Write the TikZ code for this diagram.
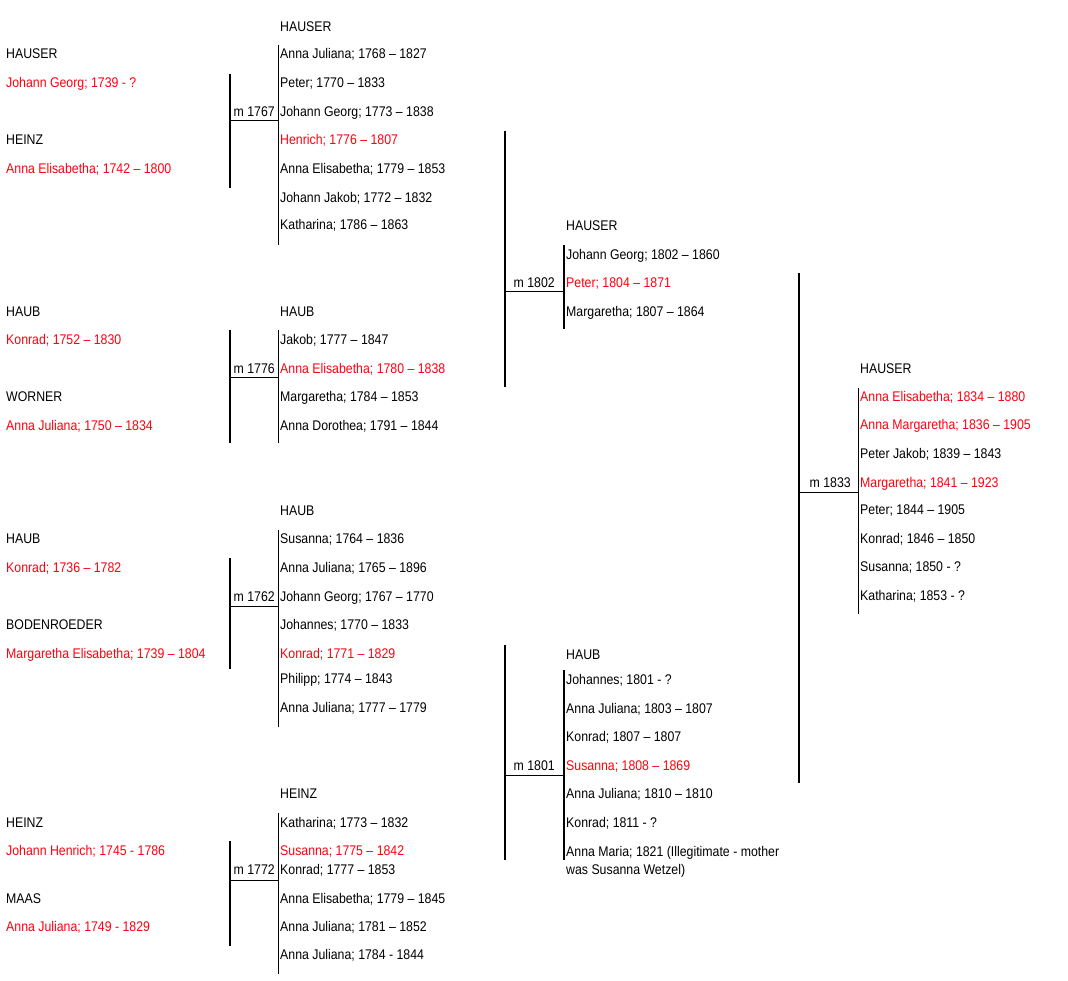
\documentclass[tikz,border=0pt]{standalone}
\usepackage{fontspec}
\setmainfont[FakeStretch=0.88]{Liberation Sans}
\definecolor{namered}{RGB}{255,0,16}
\tikzset{
  txt/.style={anchor=base west, inner sep=0pt, yshift=-5.5pt, font=\fontsize{14}{17}\selectfont, text=black},
  rtxt/.style={txt, text=namered},
  mlab/.style={anchor=base east, inner sep=0pt, yshift=-5.5pt, font=\fontsize{14}{17}\selectfont},
  thickbar/.style={line width=2pt},
  thinbar/.style={line width=1pt},
  link/.style={line width=1pt}
}
\begin{document}
\begin{tikzpicture}[x=1pt,y=-1pt]
\useasboundingbox[fill=white] (0,0) rectangle (1068,981);

% ---------- column 1: great-grandparents ----------
\node[txt]  (s1) at (6,53.3)  {HAUSER};
\node[rtxt] (p1) at (6,82.3)  {Johann Georg; 1739 - ?};
\node[txt]  (s2) at (6,139.3) {HEINZ};
\node[rtxt] (p2) at (6,167.7) {Anna Elisabetha; 1742 – 1800};

\node[txt]  (s3) at (6,311)   {HAUB};
\node[rtxt] (p3) at (6,339)   {Konrad; 1752 – 1830};
\node[txt]  (s4) at (6,395.7) {WORNER};
\node[rtxt] (p4) at (6,425)   {Anna Juliana; 1750 – 1834};

\node[txt]  (s5) at (6,538.3) {HAUB};
\node[rtxt] (p5) at (6,566.7) {Konrad; 1736 – 1782};
\node[txt]  (s6) at (6,624)   {BODENROEDER};
\node[rtxt] (p6) at (6,653.3) {Margaretha Elisabetha; 1739 – 1804};

\node[txt]  (s7) at (6,822.3) {HEINZ};
\node[rtxt] (p7) at (6,850)   {Johann Henrich; 1745 - 1786};
\node[txt]  (s8) at (6,897.7) {MAAS};
\node[rtxt] (p8) at (6,926)   {Anna Juliana; 1749 - 1829};

% ---------- marriage links, column 1 ----------
\coordinate (g1t) at (230,74);  \coordinate (g1b) at (230,188);
\coordinate (g1l) at (230,121); \coordinate (g1r) at (278,121);
\coordinate (c1t) at (278,45);  \coordinate (c1b) at (278,245);
\draw[thickbar] (g1t) -- (g1b);
\draw[link] (g1l) -- (g1r);
\draw[thinbar] (c1t) -- (c1b);
\node[mlab] (m1) at (275,110.7) {m 1767};

\coordinate (g2t) at (230,330); \coordinate (g2b) at (230,443);
\coordinate (g2l) at (230,378); \coordinate (g2r) at (278,378);
\coordinate (c2t) at (278,330); \coordinate (c2b) at (278,443);
\draw[thickbar] (g2t) -- (g2b);
\draw[link] (g2l) -- (g2r);
\draw[thinbar] (c2t) -- (c2b);
\node[mlab] (m2) at (275,367.7) {m 1776};

\coordinate (g3t) at (230,558); \coordinate (g3b) at (230,669);
\coordinate (g3l) at (230,606); \coordinate (g3r) at (278,606);
\coordinate (c3t) at (278,530); \coordinate (c3b) at (278,727);
\draw[thickbar] (g3t) -- (g3b);
\draw[link] (g3l) -- (g3r);
\draw[thinbar] (c3t) -- (c3b);
\node[mlab] (m3) at (275,595.7) {m 1762};

\coordinate (g4t) at (230,841); \coordinate (g4b) at (230,946);
\coordinate (g4l) at (230,880); \coordinate (g4r) at (278,880);
\coordinate (c4t) at (278,813); \coordinate (c4b) at (278,974);
\draw[thickbar] (g4t) -- (g4b);
\draw[link] (g4l) -- (g4r);
\draw[thinbar] (c4t) -- (c4b);
\node[mlab] (m4) at (275,869.3) {m 1772};

% ---------- column 2: children ----------
\node[txt]  (f1)  at (280,25.7)  {HAUSER};
\node[txt]  (k11) at (280,53.3)  {Anna Juliana; 1768 – 1827};
\node[txt]  (k12) at (280,82.3)  {Peter; 1770 – 1833};
\node[txt]  (k13) at (280,110.7) {Johann Georg; 1773 – 1838};
\node[rtxt] (k14) at (280,139.3) {Henrich; 1776 – 1807};
\node[txt]  (k15) at (280,167.7) {Anna Elisabetha; 1779 – 1853};
\node[txt]  (k16) at (280,196.7) {Johann Jakob; 1772 – 1832};
\node[txt]  (k17) at (280,224.3) {Katharina; 1786 – 1863};

\node[txt]  (f2)  at (280,311)   {HAUB};
\node[txt]  (k21) at (280,339)   {Jakob; 1777 – 1847};
\node[rtxt] (k22) at (280,367.7) {Anna Elisabetha; 1780 – 1838};
\node[txt]  (k23) at (280,396)   {Margaretha; 1784 – 1853};
\node[txt]  (k24) at (280,425)   {Anna Dorothea; 1791 – 1844};

\node[txt]  (f3)  at (280,510)   {HAUB};
\node[txt]  (k31) at (280,538.3) {Susanna; 1764 – 1836};
\node[txt]  (k32) at (280,566.7) {Anna Juliana; 1765 – 1896};
\node[txt]  (k33) at (280,595.7) {Johann Georg; 1767 – 1770};
\node[txt]  (k34) at (280,624)   {Johannes; 1770 – 1833};
\node[rtxt] (k35) at (280,653.3) {Konrad; 1771 – 1829};
\node[txt]  (k36) at (280,678.3) {Philipp; 1774 – 1843};
\node[txt]  (k37) at (280,707.3) {Anna Juliana; 1777 – 1779};

\node[txt]  (f4)  at (280,792.7) {HEINZ};
\node[txt]  (k41) at (280,822.3) {Katharina; 1773 – 1832};
\node[rtxt] (k42) at (280,850)   {Susanna; 1775 – 1842};
\node[txt]  (k43) at (280,869.3) {Konrad; 1777 – 1853};
\node[txt]  (k44) at (280,897.7) {Anna Elisabetha; 1779 – 1845};
\node[txt]  (k45) at (280,926)   {Anna Juliana; 1781 – 1852};
\node[txt]  (k46) at (280,954)   {Anna Juliana; 1784 - 1844};

% ---------- marriage links, column 2 ----------
\coordinate (h1t) at (505,131); \coordinate (h1b) at (505,387);
\coordinate (h1l) at (505,292); \coordinate (h1r) at (564,292);
\coordinate (d1t) at (564,245); \coordinate (d1b) at (564,329);
\draw[thickbar] (h1t) -- (h1b);
\draw[link] (h1l) -- (h1r);
\draw[thickbar] (d1t) -- (d1b);
\node[mlab] (m5) at (555,282.3) {m 1802};

\coordinate (h2t) at (505,645); \coordinate (h2b) at (505,860);
\coordinate (h2l) at (505,775); \coordinate (h2r) at (564,775);
\coordinate (d2t) at (564,670); \coordinate (d2b) at (564,860);
\draw[thickbar] (h2t) -- (h2b);
\draw[link] (h2l) -- (h2r);
\draw[thickbar] (d2t) -- (d2b);
\node[mlab] (m6) at (555,765) {m 1801};

% ---------- column 3: grandchildren ----------
\node[txt]  (f5)  at (566,225)   {HAUSER};
\node[txt]  (k51) at (566,254)   {Johann Georg; 1802 – 1860};
\node[rtxt] (k52) at (566,282.3) {Peter; 1804 – 1871};
\node[txt]  (k53) at (566,311)   {Margaretha; 1807 – 1864};

\node[txt]  (f6)  at (566,654)   {HAUB};
\node[txt]  (k61) at (566,679.3) {Johannes; 1801 - ?};
\node[txt]  (k62) at (566,708.3) {Anna Juliana; 1803 – 1807};
\node[txt]  (k63) at (566,736)   {Konrad; 1807 – 1807};
\node[rtxt] (k64) at (566,765)   {Susanna; 1808 – 1869};
\node[txt]  (k65) at (566,793.3) {Anna Juliana; 1810 – 1810};
\node[txt]  (k66) at (566,822.3) {Konrad; 1811 - ?};
\node[txt]  (k67) at (566,850.7) {Anna Maria; 1821 (Illegitimate - mother};
\node[txt]  (k67b) at (566,869.3) {was Susanna Wetzel)};

% ---------- marriage link, column 3 ----------
\coordinate (r1t) at (799,273); \coordinate (r1b) at (799,783);
\coordinate (r1l) at (799,492); \coordinate (r1r) at (858,492);
\coordinate (e1t) at (858,388); \coordinate (e1b) at (858,614);
\draw[thickbar] (r1t) -- (r1b);
\draw[link] (r1l) -- (r1r);
\draw[thinbar] (e1t) -- (e1b);
\node[mlab] (m7) at (851,481.9) {m 1833};

% ---------- column 4 ----------
\node[txt]  (f7)  at (860,367.7) {HAUSER};
\node[rtxt] (k71) at (860,395.9) {Anna Elisabetha; 1834 – 1880};
\node[rtxt] (k72) at (860,424.4) {Anna Margaretha; 1836 – 1905};
\node[txt]  (k73) at (860,452.6) {Peter Jakob; 1839 – 1843};
\node[rtxt] (k74) at (860,481.9) {Margaretha; 1841 – 1923};
\node[txt]  (k75) at (860,509.4) {Peter; 1844 – 1905};
\node[txt]  (k76) at (860,538)   {Konrad; 1846 – 1850};
\node[txt]  (k77) at (860,566)   {Susanna; 1850 - ?};
\node[txt]  (k78) at (860,595.4) {Katharina; 1853 - ?};
\end{tikzpicture}
\end{document}
